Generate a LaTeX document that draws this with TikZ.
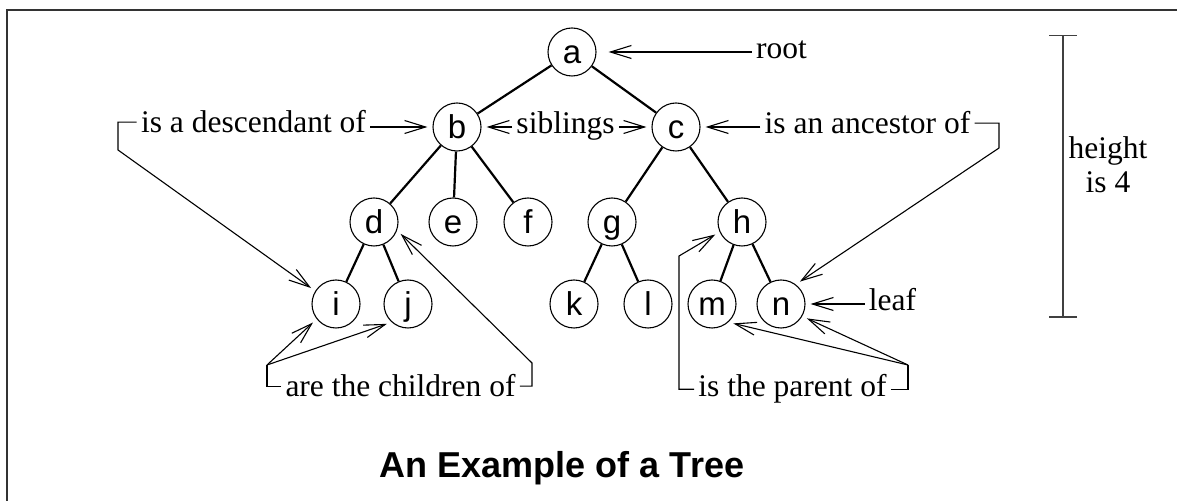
\documentclass[tikz,border=0pt]{standalone}
\usepackage{fontspec}
\setmainfont{Liberation Serif}
\setsansfont{Liberation Sans}
\usetikzlibrary{arrows.meta}

\begin{document}
\begin{tikzpicture}[x=0.5pt,y=-0.5pt,
    vertex/.style={circle,draw,line width=0.55pt,minimum size=24pt,inner sep=0pt,
      text height=12pt,text depth=0pt,font=\sffamily\fontsize{16.5}{16.5}\selectfont},
    note/.style={inner sep=2pt,anchor=base,font=\fontsize{15.75}{17}\selectfont},
    branch/.style={line width=1.1pt},
    pointer/.style={line width=0.55pt,-{Straight Barb[length=10.5pt,width=6.5pt]},shorten >=2.5pt},
    bracket/.style={line width=0.55pt}]
  \useasboundingbox (0,0) rectangle (1177,501);
  \draw[line width=0.8pt,black!80] (7,501) -- (7,10) -- (1177,10);
%
% the tree
      \node [vertex] at (572,52) (a) {a};
       \node [vertex] at (457,127) (b) {b};
        \node [vertex] at (676,127) (c) {c};
         \node [vertex] at (374,222) (d) {d};
          \node [vertex] at (453,222) (e) {e};
           \node [vertex] at (528,222) (f) {f};
            \node [vertex] at (612,222) (g) {g};
             \node [vertex] at (742,222) (h) {h};
              \node [vertex] at (336,304) (i) {i};
               \node [vertex] at (408,304) (j) {j};
                \node [vertex] at (574,304) (k) {k};
                 \node [vertex] at (648,304) (l) {l};
                  \node [vertex] at (712,304) (m) {m};
                   \node [vertex] at (781,304) (n) {n};
%
\path[branch] (a) edge (b);
\path[branch] (a) edge (c);
\path[branch] (b) edge (d);
\path[branch] (b) edge (e);
\path[branch] (b) edge (f);
\path[branch] (c) edge (g);
\path[branch] (c) edge (h);
\path[branch] (d) edge (i);
\path[branch] (d) edge (j);
\path[branch] (g) edge (k);
\path[branch] (g) edge (l);
\path[branch] (h) edge (m);
\path[branch] (h) edge (n);
%
% the words
\node [note] at (781.5,59) (root) {root};
\node [note] at (253.5,133) (desc) {is a descendant of};
\node [note] at (565.5,134) (sib) {siblings};
\node [note] at (867.5,134) (anc) {is an ancestor of};
\node [note] at (892.5,311) (leaf) {leaf};
\node [note] at (400.5,397) (kids) {are the children of};
\node [note] at (792.5,397) (par) {is the parent of};
\node [note,anchor=center,align=center] at (1108,165) (ht) {height\\is 4};
\node [font=\sffamily\bfseries\fontsize{18}{18}\selectfont,anchor=base] at (562,478) (title) {An Example of a Tree};
%
\path[pointer,shorten >=6pt] (root.west |- a) edge (a);
\path[pointer] (desc.east |- b) edge (b);
\path[pointer] (sib.west |- b) edge (b);
\path[pointer] (sib.east |- c) edge (c);
\path[pointer] (anc.west |- c) edge (c);
\path[pointer] (leaf.west |- n) edge (n);
%
% brackets
\coordinate (descA) at (118,150);
\coordinate (ancA) at (999,148);
\coordinate (kidsA) at (267,365);
\coordinate (kidsB) at (532,363);
\coordinate (parA) at (679,256);
\coordinate (parB) at (908,365);
\draw[pointer] (desc.west) -| (descA) -- (i.148);
\draw[pointer] (anc.east) -| (ancA) -- (n.53);
\draw[bracket] (kids.west) -| (kidsA);
\draw[pointer] (kidsA) -- (i.218);
\draw[pointer] (kidsA) -- (j.228);
\draw[pointer] (kids.east) -| (kidsB) -- (d.-20);
\draw[pointer] (par.west) -| (parA) -- (h.204);
\draw[bracket] (par.east) -| (parB);
\draw[pointer] (parB) -- (m.-48);
\draw[pointer] (parB) -- (n.-30);
%
% height marker
\coordinate (htop) at (1063,35);
\coordinate (hbot) at (1063,318);
\draw[black!75,line width=0.75pt,{Bar[width=14pt]}-{Bar[width=14pt]}] (htop) -- (hbot);

\end{tikzpicture}
\end{document}
